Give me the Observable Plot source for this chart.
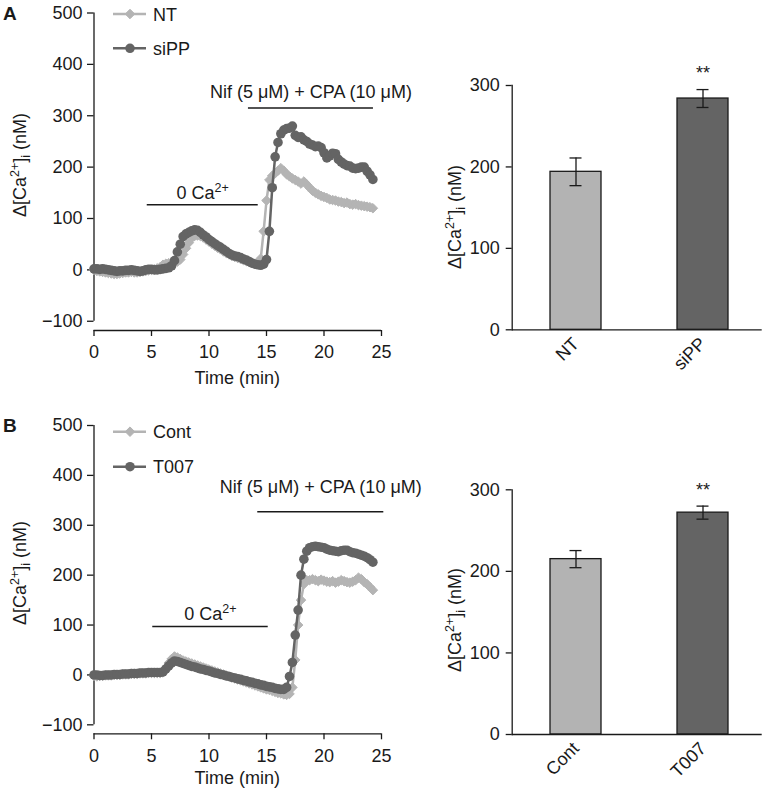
<!DOCTYPE html>
<html><head><meta charset="utf-8">
<script src="https://cdn.jsdelivr.net/npm/d3@7"></script>
<script src="https://cdn.jsdelivr.net/npm/@observablehq/plot@0.6"></script>
<style>
body{margin:0;background:#fff;}
#fig{position:relative;width:769px;height:791px;overflow:hidden;background:#fff;}
</style></head><body><div id="fig"></div><script>
// ---------------- data ----------------
const timeStepMin = 0.25; // sampling interval of the traces (min)
const xTicks = [0, 5, 10, 15, 20, 25];
const yTicksLine = [-100, 0, 100, 200, 300, 400, 500];
const yTicksBar = [0, 100, 200, 300];

const namesA = ["NT", "siPP"];
const ntA = [0,-2,-3,-4,-5,-6,-7,-8,-8,-7,
  -6,-5,-5,-4,-5,-5,-4,-3,-2,-1,
  0,1,3,5,10,12,13,14,15,16,
  20,30,42,53,62,66,67,66,63,59,
  55,51,47,43,40,36,33,30,27,25,
  23,21,19,17,15,14,12,14,22,75,
  135,175,183,188,193,198,193,186,182,178,
  175,172,168,172,166,160,154,150,147,144,
  142,140,137,136,135,133,132,130,131,128,
  127,128,126,125,124,123,122,120];
const sippA = [2,2,1,2,1,0,-1,-2,-3,-2,
  -2,-1,-1,0,-1,-2,-3,-2,0,1,
  1,0,0,1,2,3,4,8,18,35,
  50,65,70,73,76,78,77,73,68,64,
  59,55,51,47,44,40,36,32,29,27,
  26,24,21,19,16,13,11,10,9,11,
  20,75,160,220,248,265,272,275,276,280,
  262,258,259,253,250,245,243,240,241,238,
  228,218,222,227,226,215,210,206,203,202,
  198,197,198,200,200,192,185,176];
const treatA = [
  {label: "0 Ca2+", start: 4.63, end: 14.28, level: 127},
  {label: "Nif (5 μM) + CPA (10 μM)", start: 13.43, end: 24.3, level: 315}
];

const namesB = ["Cont", "T007"];
const contB = [-2,-3,-2,-2,-1,-1,-1,0,0,0,
  1,1,1,2,2,2,3,3,3,4,
  4,4,4,4,5,14,24,32,37,35,
  32,29,27,25,23,21,19,17,15,13,
  11,9,7,5,3,1,-1,-3,-5,-7,
  -9,-11,-13,-15,-17,-19,-21,-23,-25,-27,
  -29,-30,-32,-34,-36,-37,-39,-40,-38,-25,
  30,100,150,182,190,190,192,190,188,191,
  189,187,186,188,185,187,190,188,186,185,
  187,190,195,192,186,182,176,170];
const t007B = [0,0,-1,-1,0,0,0,1,1,1,
  2,2,2,3,3,3,4,4,4,5,
  5,5,5,5,6,12,18,24,28,27,
  25,23,21,19,17,16,14,12,11,9,
  8,6,4,3,1,0,-2,-3,-5,-6,
  -8,-9,-11,-12,-14,-15,-17,-18,-20,-21,
  -23,-24,-25,-27,-28,-29,-29,-25,-3,25,
  80,130,200,232,248,255,257,258,257,256,
  255,252,250,249,248,247,249,250,250,247,
  245,244,242,240,238,235,231,226];
const treatB = [
  {label: "0 Ca2+", start: 5.11, end: 15.15, level: 97},
  {label: "Nif (5 μM) + CPA (10 μM)", start: 14.24, end: 25.2, level: 327}
];

const barCatsA = ["NT", "siPP"];
const barMeanA = [194, 284];
const barSemA = [17, 11];
const barSigA = ["", "**"];

const barCatsB = ["Cont", "T007"];
const barMeanB = [215, 272];
const barSemB = [10.5, 8];
const barSigB = ["", "**"];

// ---------------- style ----------------
const FONT = '"Liberation Sans", Arial, Helvetica, sans-serif';
const INK = "#1a1a1a";
const LIGHT = "#b4b4b4";
const DARK = "#646464";
const BAR_LIGHT = "#b3b3b3";
const BAR_DARK = "#646464";
const R_DARK = 4.8, R_LIGHT = 4.3;
const fig = document.getElementById("fig");

function place(svg, left, top) {
  svg.style.position = "absolute";
  svg.style.left = left + "px";
  svg.style.top = top + "px";
  fig.appendChild(svg);
}

function supify(svg) {
  svg.querySelectorAll("text").forEach(t => {
    if (t.textContent === "0 Ca2+") {
      t.innerHTML = '0 Ca<tspan dy="-7" font-size="12.5">2+</tspan>';
    }
  });
}

function caLabel(svg, x, y) {
  const t = d3.select(svg).append("text")
    .attr("transform", `translate(${x},${y}) rotate(-90)`)
    .attr("text-anchor", "middle").attr("font-size", 18)
    .attr("font-family", FONT).attr("fill", INK);
  t.append("tspan").text("Δ[Ca");
  t.append("tspan").attr("dy", -7).attr("font-size", 12.5).text("2+");
  t.append("tspan").attr("dy", 7).text("]");
  t.append("tspan").attr("dy", 4).attr("font-size", 12.5).text("i");
  t.append("tspan").attr("dy", -4).text(" (nM)");
}

function linePanel(cfg) {
  const toRows = (vals, name) => vals.map((v, i) => ({t: i * timeStepMin, v, name}));
  const lightRows = toRows(cfg.light, cfg.names[0]);
  const darkRows = toRows(cfg.dark, cfg.names[1]);
  const yExt = d3.extent(yTicksLine);
  const svg = Plot.plot({
    width: 420, height: cfg.height,
    marginLeft: 93.5, marginRight: 39, marginTop: cfg.marginTop, marginBottom: cfg.marginBottom,
    style: {fontFamily: FONT, fontSize: "18px", color: INK, background: "transparent", overflow: "visible"},
    x: {domain: d3.extent(xTicks)},
    y: {domain: [cfg.yMin, yExt[1]]},
    marks: [
      Plot.ruleY([cfg.yMin], {stroke: INK, strokeWidth: 1.3}),
      Plot.ruleX([xTicks[0]], {y1: yExt[0], y2: yExt[1], stroke: INK, strokeWidth: 1.3}),
      Plot.axisX({ticks: xTicks, tickSize: 6, tickPadding: 9, label: null, strokeWidth: 1.3}),
      Plot.axisY({ticks: yTicksLine, tickSize: 6.5, tickPadding: 5, label: null, strokeWidth: 1.3}),
      Plot.ruleY(cfg.treat, {x1: "start", x2: "end", y: "level", stroke: INK, strokeWidth: 1.5}),
      ...cfg.treat.map((d, i) => Plot.text([d], {x: e => (e.start + e.end) / 2, y: "level", text: "label",
        lineAnchor: "bottom", dy: cfg.labelDy[i], fontSize: 18, fill: INK})),
      Plot.line(lightRows, {x: "t", y: "v", stroke: LIGHT, strokeWidth: 2.5}),
      Plot.dot(lightRows, {x: "t", y: "v", symbol: "diamond2", r: R_LIGHT, fill: LIGHT, stroke: LIGHT, strokeWidth: 1}),
      Plot.line(darkRows, {x: "t", y: "v", stroke: DARK, strokeWidth: 2.5}),
      Plot.dot(darkRows, {x: "t", y: "v", symbol: "circle", r: R_DARK, fill: DARK, stroke: "none"})
    ]
  });
  supify(svg);
  caLabel(svg, 26, cfg.yLabelY);
  const s = d3.select(svg);
  // x title
  s.append("text").attr("x", 93.5 + (420 - 93.5 - 39) / 2).attr("y", cfg.xTitleY)
    .attr("text-anchor", "middle").attr("font-size", 18).attr("font-family", FONT).attr("fill", INK).text("Time (min)");
  // panel letter
  s.append("text").attr("x", 3).attr("y", cfg.letterY).attr("text-anchor", "start")
    .attr("font-size", 19).attr("font-weight", "bold")
    .attr("font-family", FONT).attr("fill", INK).text(cfg.letter);
  // legend
  const g = s.append("g");
  cfg.names.forEach((n, i) => {
    const y = cfg.legendY + i * cfg.legendStep;
    const col = i ? DARK : LIGHT;
    g.append("line").attr("x1", 113).attr("x2", 146).attr("y1", y).attr("y2", y)
      .attr("stroke", col).attr("stroke-width", 2.5);
    g.append("path").attr("transform", `translate(130,${y})`)
      .attr("d", d3.symbol(i ? d3.symbolCircle : d3.symbolDiamond2, i ? Math.PI * R_DARK * R_DARK : Math.PI * R_LIGHT * R_LIGHT)())
      .attr("fill", col).attr("stroke", i ? "none" : col);
    g.append("text").attr("x", 153).attr("y", y + 6.5).attr("text-anchor", "start").attr("font-size", 18)
      .attr("font-family", FONT).attr("fill", INK).text(n);
  });
  place(svg, 0, cfg.top);
}

function barPanel(cfg) {
  const rows = cfg.cats.map((c, i) => ({c, m: cfg.mean[i], e: cfg.sem[i], s: cfg.sig[i]}));
  const svg = Plot.plot({
    width: 349, height: cfg.height,
    marginLeft: 91.7, marginRight: 7.3, marginTop: cfg.marginTop, marginBottom: cfg.marginBottom,
    style: {fontFamily: FONT, fontSize: "18px", color: INK, background: "transparent", overflow: "visible"},
    x: {domain: cfg.cats, paddingInner: 0.596, paddingOuter: 0.277, align: 0.54},
    y: {domain: d3.extent(yTicksBar)},
    color: {domain: cfg.cats, range: [BAR_LIGHT, BAR_DARK]},
    marks: [
      Plot.barY(rows, {x: "c", y: "m", fill: "c", stroke: INK, strokeWidth: 1.3}),
      Plot.ruleX(rows, {x: "c", y1: d => d.m - d.e, y2: d => d.m + d.e, stroke: INK, strokeWidth: 1.3}),
      Plot.tickY(rows, {x: "c", y: d => d.m + d.e, stroke: INK, strokeWidth: 1.3, insetLeft: 19.5, insetRight: 19.5}),
      Plot.tickY(rows, {x: "c", y: d => d.m - d.e, stroke: INK, strokeWidth: 1.3, insetLeft: 19.5, insetRight: 19.5}),
      Plot.text(rows, {x: "c", y: d => d.m + d.e, text: "s", dy: -16, fontSize: 18, fill: INK}),
      Plot.frame({anchor: "left", stroke: INK, strokeWidth: 1.3}),
      Plot.ruleY([yTicksBar[0]], {stroke: INK, strokeWidth: 1.3}),
      Plot.axisY({ticks: yTicksBar, tickSize: 6, tickPadding: 6.5, label: null, strokeWidth: 1.3}),
      Plot.axisX({tickSize: 0, tickRotate: -45, tickPadding: 11, label: null})
    ]
  });
  caLabel(svg, 41, cfg.yLabelY);
  place(svg, 420, cfg.top);
}

linePanel({letter: "A", light: ntA, dark: sippA, names: namesA, treat: treatA, labelDy: [-6, -10],
  top: 0, height: 390, marginTop: 12.5, marginBottom: 60, yMin: -118,
  yLabelY: 165, xTitleY: 383.5, letterY: 20, legendY: 14, legendStep: 34.3});
linePanel({letter: "B", light: contB, dark: t007B, names: namesB, treat: treatB, labelDy: [-7, -18.5],
  top: 400, height: 391, marginTop: 25, marginBottom: 57.7, yMin: -118,
  yLabelY: 173, xTitleY: 384, letterY: 32, legendY: 31.7, legendStep: 35});
barPanel({cats: barCatsA, mean: barMeanA, sem: barSemA, sig: barSigA,
  top: 50, height: 340, marginTop: 35, marginBottom: 60.7, yLabelY: 167});
barPanel({cats: barCatsB, mean: barMeanB, sem: barSemB, sig: barSigB,
  top: 450, height: 341, marginTop: 39.3, marginBottom: 57, yLabelY: 170});
</script></body></html>
